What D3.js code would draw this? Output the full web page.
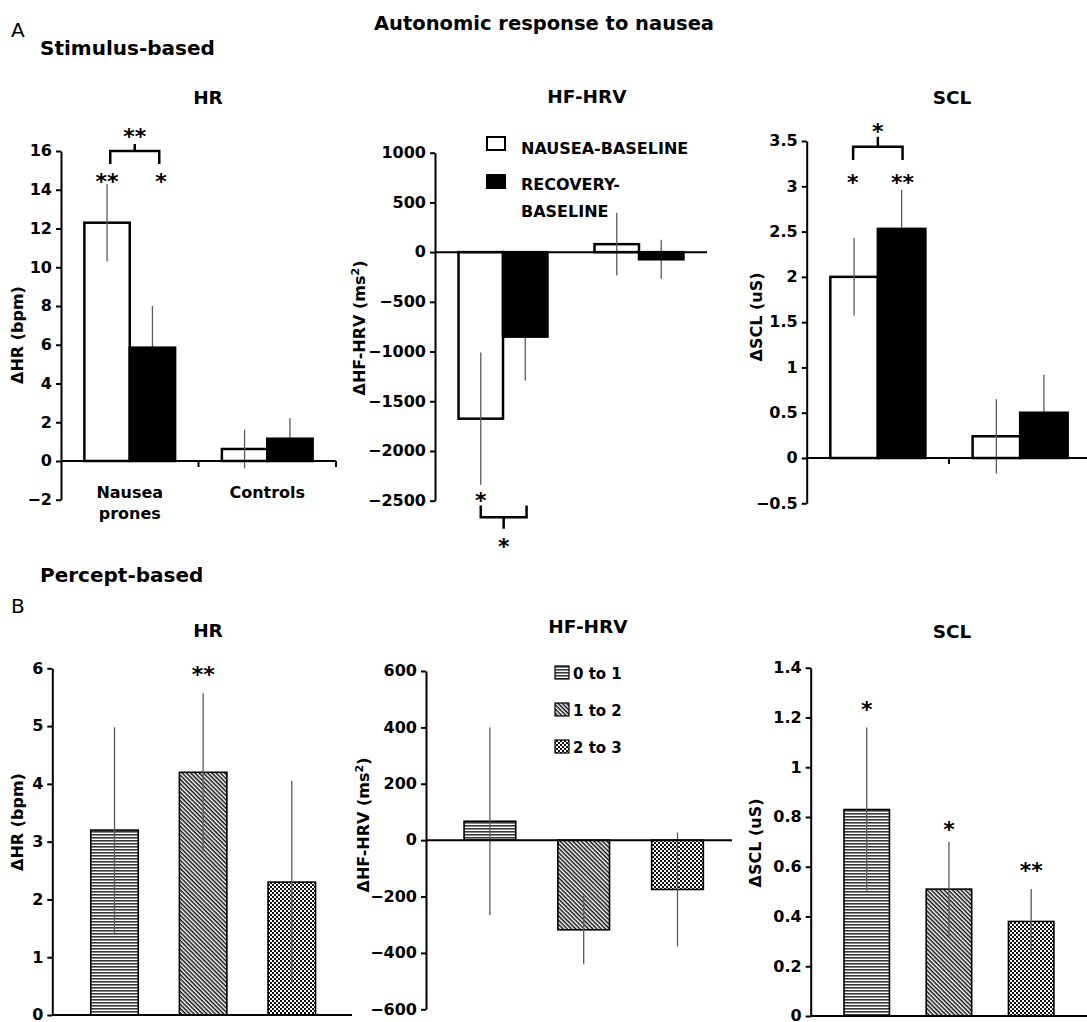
<!DOCTYPE html>
<html>
<head>
<meta charset="utf-8">
<script src="https://cdn.jsdelivr.net/npm/d3@7"></script>
<style>
  body { margin: 0; background: #fff; }
  svg { display: block; font-family: "DejaVu Sans", sans-serif; font-weight: bold; }
  .axis path, .axis line { stroke: #000; stroke-width: 2; }
  .axis text { font-family: "DejaVu Sans", sans-serif; font-size: 16px; font-weight: bold; fill: #000; }
</style>
</head>
<body>
<svg id="chart"></svg>
<script>
const width = 1087;
const height = 1022;

// ---- data ----
const stimGroups = ["Nausea prones", "Controls"];
const stimSeries = ["NAUSEA-BASELINE", "RECOVERY-BASELINE"];
const stimLegendLines = [["NAUSEA-BASELINE"], ["RECOVERY-", "BASELINE"]];

// [group][series]
const stimHR = [[12.3, 5.85], [0.62, 1.15]];
const stimHRErr = [[2.0, 2.15], [1.0, 1.07]];
const stimHF = [[-1675, -850], [80, -72]];
const stimHFErr = [[665, 440], [315, 197]];
const stimSCL = [[2.0, 2.53], [0.24, 0.5]];
const stimSCLErr = [[0.43, 0.43], [0.41, 0.42]];

const perceptLevels = ["0 to 1", "1 to 2", "2 to 3"];
const percHR = [3.2, 4.2, 2.3];
const percHRErr = [1.78, 1.37, 1.75];
const percHF = [67, -318, -175];
const percHFErr = [333, 122, 202];
const percSCL = [0.83, 0.51, 0.38];
const percSCLErr = [0.33, 0.19, 0.13];

const hrTicksA = [-2, 0, 2, 4, 6, 8, 10, 12, 14, 16];
const hfTicksA = [-2500, -2000, -1500, -1000, -500, 0, 500, 1000];
const sclTicksA = [-0.5, 0, 0.5, 1, 1.5, 2, 2.5, 3, 3.5];
const hrTicksB = [0, 1, 2, 3, 4, 5, 6];
const hfTicksB = [-600, -400, -200, 0, 200, 400, 600];
const sclTicksB = [0, 0.2, 0.4, 0.6, 0.8, 1, 1.2, 1.4];

// significance marks: [group, offset from group centre in bar widths, value, text]
const stimHRStars = [[0, -0.5, 14.66, "**"], [0, 0.69, 14.66, "*"]];
const stimHFStars = [[0, -0.5, -2448, "*"]];
const stimSCLStars = [[0, -0.53, 3.088, "*"], [0, 0.52, 3.088, "**"]];
// brackets: [group, left, right, leg end, bar, tick end, star value, text]
const stimHRBracket = [0, -0.43, 0.65, 15.33, 16.0, 16.36, 16.98, "**"];
const stimHFBracket = [0, -0.5, 0.53, -2548, -2666, -2783, -2917, "*"];
const stimSCLBracket = [0, -0.52, 0.52, 3.29, 3.437, 3.547, 3.657, "*"];
// [bar index, value, text]
const percHRStars = [[1, 5.97, "**"]];
const percSCLStars = [[0, 1.25, "*"], [1, 0.768, "*"], [2, 0.604, "**"]];

const patternIds = ["p-horiz", "p-diag", "p-check"];

const fmt = d => (d < 0 ? "\u2212" : "") + Math.abs(d);

const svg = d3.select("#chart")
  .attr("width", width)
  .attr("height", height);

svg.append("rect").attr("width", width).attr("height", height).attr("fill", "#fff");

// patterns
const defs = svg.append("defs");
const ph = defs.append("pattern").attr("id", "p-horiz")
  .attr("patternUnits", "userSpaceOnUse").attr("width", 6).attr("height", 3);
ph.append("rect").attr("width", 6).attr("height", 3).attr("fill", "#fff");
ph.append("rect").attr("width", 6).attr("height", 1.6).attr("fill", "#3a3a3a");

const pd = defs.append("pattern").attr("id", "p-diag")
  .attr("patternUnits", "userSpaceOnUse").attr("width", 6).attr("height", 3)
  .attr("patternTransform", "rotate(45)");
pd.append("rect").attr("width", 6).attr("height", 3).attr("fill", "#fff");
pd.append("rect").attr("width", 6).attr("height", 1.5).attr("fill", "#111");

const pc = defs.append("pattern").attr("id", "p-check")
  .attr("patternUnits", "userSpaceOnUse").attr("width", 4).attr("height", 4);
pc.append("rect").attr("width", 4).attr("height", 4).attr("fill", "#fff");
pc.append("rect").attr("width", 2).attr("height", 2).attr("fill", "#111");
pc.append("rect").attr("x", 2).attr("y", 2).attr("width", 2).attr("height", 2).attr("fill", "#111");

// ---- headings ----
function heading(text, x, y, size, anchor, weight) {
  svg.append("text")
    .attr("x", x).attr("y", y)
    .attr("text-anchor", anchor || "start")
    .style("font-size", size + "px")
    .style("font-weight", weight || "bold")
    .text(text);
}

heading("Autonomic response to nausea", 544, 30, 19.5, "middle");
heading("A", 11, 37, 20, "start", "normal");
heading("Stimulus-based", 40, 55, 20);
heading("Percept-based", 40, 582, 20);
heading("B", 11, 613, 20, "start", "normal");

function rotLabel(parts, x, y) {
  const t = svg.append("text")
    .attr("transform", `translate(${x},${y}) rotate(-90)`)
    .attr("text-anchor", "middle")
    .style("font-size", "16px");
  t.append("tspan").text(parts[0]);
  if (parts.length > 1) {
    t.append("tspan").attr("dy", -6).style("font-size", "11px").text(parts[1]);
    t.append("tspan").attr("dy", 6).text(parts[2]);
  }
}

function yAxis(y, ticks, x) {
  svg.append("g")
    .attr("class", "axis")
    .attr("transform", `translate(${x},0)`)
    .call(d3.axisLeft(y).tickValues(ticks).tickFormat(fmt)
      .tickSize(5).tickPadding(4).tickSizeOuter(0))
    .selectAll("text").attr("dy", "0.3em");
}

function star(x, y, text) {
  svg.append("text")
    .attr("x", x).attr("y", y).attr("dy", "0.55em")
    .attr("text-anchor", "middle")
    .style("font-size", "22px")
    .text(text);
}

// ---- stimulus-based panels ----
function drawStimulus(p) {
  const g = svg.append("g");
  const x = d3.scaleBand().domain(stimGroups).range(p.xRange);
  const y = d3.scaleLinear().domain(p.domain).range(p.yRange);
  const bw = x.bandwidth() * p.barFrac;
  const cx = (gi, pos) => x(stimGroups[gi]) + x.bandwidth() / 2 + pos * bw;

  const rows = [];
  p.values.forEach((vals, gi) => vals.forEach((v, si) => rows.push({ gi, si, v, e: p.errors[gi][si] })));

  const errLine = sel => sel
    .attr("x1", d => cx(d.gi, d.si - 0.5))
    .attr("x2", d => cx(d.gi, d.si - 0.5))
    .attr("y1", d => y(d.v - d.e))
    .attr("y2", d => y(d.v + d.e))
    .attr("stroke", "#5a5a5a")
    .attr("stroke-width", 1.3);

  // black-series error bars go under their bars, white-series ones on top
  g.append("g").selectAll("line")
    .data(rows.filter(d => d.si === 1))
    .join("line").call(errLine);

  g.append("g").selectAll("rect")
    .data(rows)
    .join("rect")
    .attr("x", d => cx(d.gi, d.si - 1))
    .attr("width", bw)
    .attr("y", d => y(Math.max(0, d.v)))
    .attr("height", d => Math.abs(y(d.v) - y(0)))
    .attr("fill", d => d.si === 0 ? "#fff" : "#000")
    .attr("stroke", "#000")
    .attr("stroke-width", 2.5);

  g.append("g").selectAll("line")
    .data(rows.filter(d => d.si === 0))
    .join("line").call(errLine);

  g.append("line")
    .attr("x1", p.xLine[0]).attr("x2", p.xLine[1])
    .attr("y1", y(0)).attr("y2", y(0))
    .attr("stroke", "#000").attr("stroke-width", 2);

  if (p.edgeTicks) {
    g.append("g").selectAll("line")
      .data(stimGroups)
      .join("line")
      .attr("x1", d => x(d) + x.bandwidth())
      .attr("x2", d => x(d) + x.bandwidth())
      .attr("y1", y(0)).attr("y2", y(0) + 6)
      .attr("stroke", "#000").attr("stroke-width", 2);
  }

  yAxis(y, p.ticks, p.axisX);

  p.stars.forEach(s => star(cx(s[0], s[1]), y(s[2]), s[3]));

  const b = p.bracket;
  const xl = cx(b[0], b[1]), xr = cx(b[0], b[2]), xm = (xl + xr) / 2;
  g.append("path")
    .attr("d", `M${xl},${y(b[3])}V${y(b[4])}H${xr}V${y(b[3])}M${xm},${y(b[4])}V${y(b[5])}`)
    .attr("fill", "none").attr("stroke", "#000").attr("stroke-width", 2.5);
  star(xm, y(b[6]), b[7]);

  if (p.groupLabels) {
    stimGroups.forEach(c => {
      c.split(" ").forEach((w, i) => {
        g.append("text")
          .attr("x", x(c) + x.bandwidth() / 2)
          .attr("y", p.groupLabelY + i * 21)
          .attr("text-anchor", "middle")
          .style("font-size", "16px")
          .text(w);
      });
    });
  }

  heading(p.title, p.titleX, p.titleY, 18.5, "middle");
  rotLabel(p.label, p.labelX, p.labelY);
}

drawStimulus({
  values: stimHR, errors: stimHRErr, ticks: hrTicksA,
  domain: [-2, 16], yRange: [499.75, 151], xRange: [61, 336], barFrac: 0.33,
  axisX: 61, xLine: [61, 336], edgeTicks: true,
  stars: stimHRStars, bracket: stimHRBracket,
  groupLabels: true, groupLabelY: 498,
  title: "HR", titleX: 208, titleY: 104,
  label: ["\u0394HR (bpm)"], labelX: 23, labelY: 335
});

drawStimulus({
  values: stimHF, errors: stimHFErr, ticks: hfTicksA,
  domain: [-2500, 1000], yRange: [500.7, 152.7], xRange: [435, 707], barFrac: 0.327,
  axisX: 435, xLine: [435, 707], edgeTicks: false,
  stars: stimHFStars, bracket: stimHFBracket,
  title: "HF-HRV", titleX: 587, titleY: 103,
  label: ["\u0394HF-HRV (ms", "2", ")"], labelX: 365, labelY: 328
});

drawStimulus({
  values: stimSCL, errors: stimSCLErr, ticks: sclTicksA,
  domain: [-0.5, 3.5], yRange: [503.3, 141], xRange: [806.7, 1091.3], barFrac: 0.334,
  axisX: 806.7, xLine: [806.7, 1087], edgeTicks: true,
  stars: stimSCLStars, bracket: stimSCLBracket,
  title: "SCL", titleX: 952, titleY: 104,
  label: ["\u0394SCL (uS)"], labelX: 762, labelY: 317
});

// legend for stimulus-based panels
const legA = svg.append("g");
stimSeries.forEach((s, i) => {
  legA.append("rect")
    .attr("x", 487).attr("y", 137 + i * 38)
    .attr("width", 18).attr("height", 13)
    .attr("fill", i === 0 ? "#fff" : "#000")
    .attr("stroke", "#000").attr("stroke-width", 2);
  stimLegendLines[i].forEach((line, j) => {
    legA.append("text")
      .attr("x", 521).attr("y", 154 + i * 36 + j * 26.7)
      .style("font-size", "16px")
      .text(line);
  });
});

// ---- percept-based panels ----
function drawPercept(p) {
  const g = svg.append("g");
  const x = d3.scaleBand().domain(perceptLevels).range(p.xRange);
  const y = d3.scaleLinear().domain(p.domain).range(p.yRange);
  const bw = x.bandwidth() * p.barFrac;
  const cx = i => x(perceptLevels[i]) + x.bandwidth() / 2;

  const rows = p.values.map((v, i) => ({ i, v, e: p.errors[i] }));

  g.append("g").selectAll("rect")
    .data(rows)
    .join("rect")
    .attr("x", d => cx(d.i) - bw / 2)
    .attr("width", bw)
    .attr("y", d => y(Math.max(0, d.v)))
    .attr("height", d => Math.abs(y(d.v) - y(0)))
    .attr("fill", d => `url(#${patternIds[d.i]})`)
    .attr("stroke", "#000")
    .attr("stroke-width", 1.6);

  g.append("g").selectAll("line")
    .data(rows)
    .join("line")
    .attr("x1", d => cx(d.i)).attr("x2", d => cx(d.i))
    .attr("y1", d => y(d.v - d.e)).attr("y2", d => y(d.v + d.e))
    .attr("stroke", "#5a5a5a").attr("stroke-width", 1.3);

  g.append("line")
    .attr("x1", p.xLine[0]).attr("x2", p.xLine[1])
    .attr("y1", y(0)).attr("y2", y(0))
    .attr("stroke", "#000").attr("stroke-width", 2);

  yAxis(y, p.ticks, p.axisX);

  (p.stars || []).forEach(s => star(cx(s[0]), y(s[1]), s[2]));

  heading(p.title, p.titleX, p.titleY, 18.5, "middle");
  rotLabel(p.label, p.labelX, p.labelY);
}

drawPercept({
  values: percHR, errors: percHRErr, ticks: hrTicksB,
  domain: [0, 6], yRange: [1015, 668.3], xRange: [70.2, 336.1], barFrac: 0.536,
  axisX: 52.3, xLine: [52.3, 352],
  stars: percHRStars,
  title: "HR", titleX: 208, titleY: 637,
  label: ["\u0394HR (bpm)"], labelX: 23, labelY: 822
});

drawPercept({
  values: percHF, errors: percHFErr, ticks: hfTicksB,
  domain: [-600, 600], yRange: [1009.3, 671], xRange: [443, 724.4], barFrac: 0.551,
  axisX: 426, xLine: [426, 732],
  title: "HF-HRV", titleX: 588, titleY: 633,
  label: ["\u0394HF-HRV (ms", "2", ")"], labelX: 369, labelY: 825
});

drawPercept({
  values: percSCL, errors: percSCLErr, ticks: sclTicksB,
  domain: [0, 1.4], yRange: [1016, 667.7], xRange: [825.6, 1072.3], barFrac: 0.553,
  axisX: 810.7, xLine: [810.7, 1087],
  stars: percSCLStars,
  title: "SCL", titleX: 952, titleY: 638,
  label: ["\u0394SCL (uS)"], labelX: 761, labelY: 843
});

// legend for percept-based panels
const legB = svg.append("g");
perceptLevels.forEach((lvl, i) => {
  legB.append("rect")
    .attr("x", 555).attr("y", 666 + i * 37)
    .attr("width", 14).attr("height", 13)
    .attr("fill", `url(#${patternIds[i]})`)
    .attr("stroke", "#000").attr("stroke-width", 1.2);
  legB.append("text")
    .attr("x", 573).attr("y", 678.5 + i * 37)
    .style("font-size", "15px")
    .text(lvl);
});
</script>
</body>
</html>
